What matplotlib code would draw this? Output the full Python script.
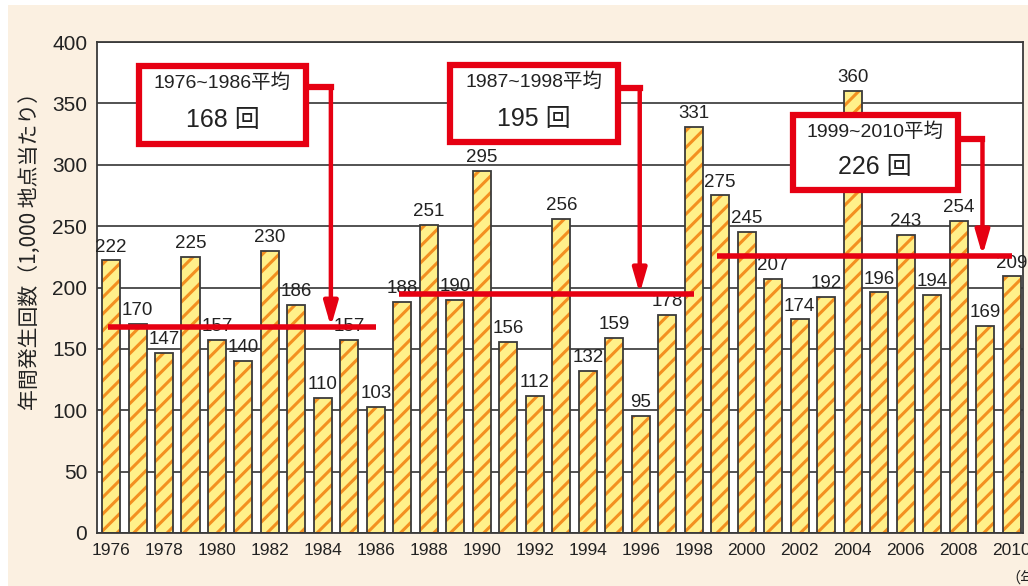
import matplotlib
matplotlib.use("Agg")
import matplotlib.pyplot as plt
from matplotlib.patches import Rectangle
import numpy as np

plt.rcParams['font.family'] = ['Liberation Sans', 'Noto Sans CJK JP', 'DejaVu Sans']
plt.rcParams['hatch.linewidth'] = 2.2

# Annual occurrences per 1,000 observation points
years = list(range(1976, 2011))
counts = [222, 170, 147, 225, 157, 140, 230, 186, 110, 157, 103,
          188, 251, 190, 295, 156, 112, 256, 132, 159, 95, 178, 331,
          275, 245, 207, 174, 192, 360, 196, 243, 194, 254, 169, 209]

# Period averages: (start year, end year, average, box text)
period_start = [1976, 1987, 1999]
period_end = [1986, 1998, 2010]
period_avg = [168, 195, 226]
period_label = ["1976~1986平均", "1987~1998平均", "1999~2010平均"]

xtick_years = list(range(1976, 2011, 2))
yticks = list(range(0, 401, 50))

RED = '#E60012'
YELLOW = '#FFF08A'
ORANGE = '#F39020'
DARK = '#3a3a3a'
BEIGE = '#FBF0E1'
CJK = ['Noto Sans CJK JP', 'DejaVu Sans']
MIXED = ['Liberation Sans', 'Noto Sans CJK JP', 'DejaVu Sans']

fig = plt.figure(figsize=(10.28, 5.86), dpi=100, facecolor='white')
fig.patches.append(Rectangle((8 / 1028, 0), 1, 1 - 5 / 586, transform=fig.transFigure,
                             facecolor=BEIGE, edgecolor='none', zorder=-10))

ax = fig.add_axes([97 / 1028, 1 - 533 / 586, (1023 - 97) / 1028, (533 - 42) / 586])
ax.set_facecolor('white')

# Hatched fill, then dark outline on top
ax.bar(years, counts, width=0.68, color=YELLOW, edgecolor=ORANGE, linewidth=0,
       hatch='//', zorder=2)
ax.bar(years, counts, width=0.68, fill=False, edgecolor=DARK, linewidth=1.3, zorder=3)

for x, v in zip(years, counts):
    ax.text(x, v + 4, str(v), ha='center', va='bottom', fontsize=13.5,
            color='#222222', zorder=4)

ax.set_xlim(1976 - 0.53, 2010 + 0.43)
ax.set_ylim(0, 400)
ax.set_yticks(yticks)
ax.set_xticks(xtick_years)
ax.tick_params(axis='y', length=0, pad=7, labelsize=15, colors='#222222')
ax.tick_params(axis='x', length=0, pad=7, labelsize=12.5, colors='#222222')
ax.yaxis.grid(True, color='#444444', linewidth=1.3, zorder=1)
ax.set_axisbelow(True)
for s in ax.spines.values():
    s.set_color(DARK)
    s.set_linewidth(1.3)

ax.set_ylabel("年間発生回数（1,000 地点当たり）", fontsize=15, family=CJK,
              color='#222222')
ax.yaxis.set_label_coords(-0.06, 0.585)

# Average lines
for s, e, a in zip(period_start, period_end, period_avg):
    ax.plot([s - 0.12, e + 0.02], [a, a], color=RED, linewidth=4, zorder=5,
            solid_capstyle='butt')

# Callout boxes with connectors
box_x0 = [1977.06, 1988.79, 2001.74]
box_x1 = [1983.36, 1995.13, 2007.96]
box_y0 = [317, 318.5, 279.5]
box_y1 = [380.5, 381.3, 340.5]
conn_y = [363.4, 362.5, 321]
conn_x = [1984.3, 1995.96, 2008.9]

for i in range(3):
    x0, x1, y0, y1 = box_x0[i], box_x1[i], box_y0[i], box_y1[i]
    ax.plot([x1, conn_x[i]], [conn_y[i], conn_y[i]], color=RED, linewidth=4.5,
            zorder=6, solid_capstyle='projecting')
    ax.annotate('', xy=(conn_x[i], period_avg[i]), xytext=(conn_x[i], conn_y[i]),
                arrowprops=dict(arrowstyle='-|>,head_length=0.9,head_width=0.26',
                                mutation_scale=16, color=RED, lw=3.2,
                                shrinkA=0, shrinkB=0),
                zorder=6)
    ax.add_patch(Rectangle((x0, y0), x1 - x0, y1 - y0, facecolor='white',
                           edgecolor=RED, linewidth=4.5, zorder=7))
    cx = (x0 + x1) / 2
    ax.text(cx, y1 - (y1 - y0) * 0.22, period_label[i], ha='center', va='center',
            fontsize=14, family=MIXED, color='#222222', zorder=8)
    ax.text(cx, y0 + (y1 - y0) * 0.3, f"{period_avg[i]} 回", ha='center',
            va='center', fontsize=18, family=MIXED, color='#222222', zorder=8)

fig.text(1005 / 1028, 1 - 578 / 586, "（年）", ha='left', va='center', fontsize=11,
         family=CJK, color='#222222')

fig.savefig('out.png', dpi=100, facecolor=fig.get_facecolor())
